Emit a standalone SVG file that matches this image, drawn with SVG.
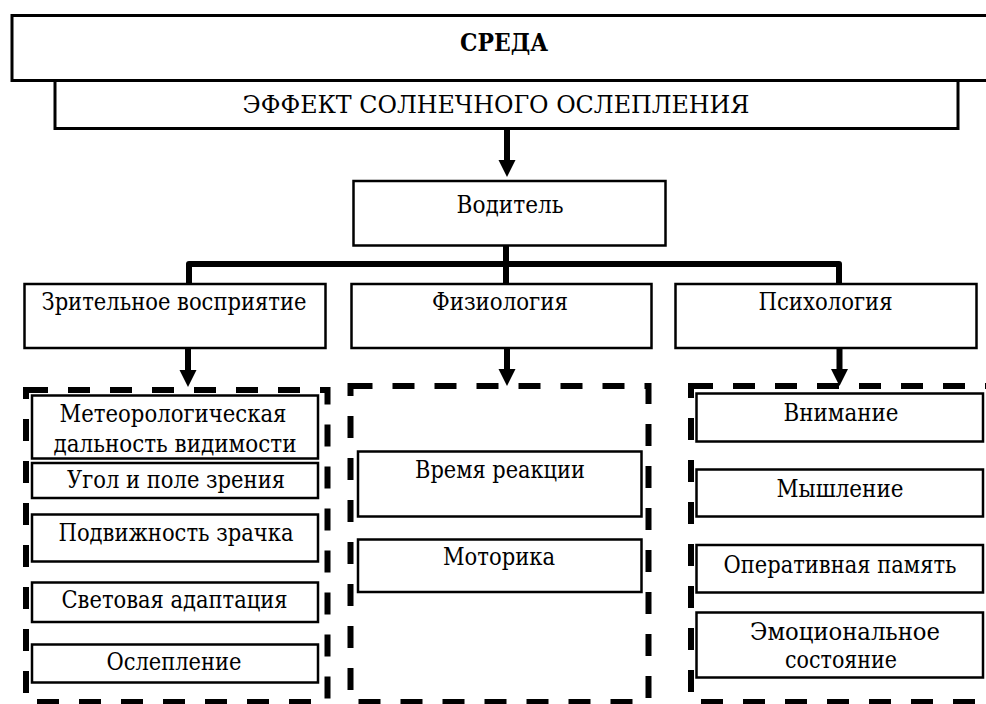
<svg xmlns="http://www.w3.org/2000/svg" width="986" height="704" viewBox="0 0 986 704">
<style>
  text { font-family: 'DejaVu Serif Condensed', 'DejaVu Serif', 'Liberation Serif', serif; font-stretch: condensed; font-size: 24px; fill: #000; text-anchor: middle; }
  .bold { font-weight: bold; }
  .box { fill: #fff; stroke: #000; stroke-width: 2.5; }
  .big { fill: #fff; stroke: #000; stroke-width: 3; }
  .dash { fill: none; stroke: #000; stroke-width: 6; stroke-dasharray: 22 20; }
  .conn { fill: none; stroke: #000; stroke-width: 6; stroke-linejoin: round; }
</style>
<defs>
  <marker id="ah" markerUnits="userSpaceOnUse" markerWidth="18" markerHeight="18" refX="0" refY="8.5" orient="auto">
    <path d="M0,0 L17,8.5 L0,17 z" fill="#000"/>
  </marker>
</defs>
<rect width="986" height="704" fill="#fff"/>

<g id="sreda">
  <rect class="big" x="12" y="15.5" width="990" height="65"/>
  <text class="bold" x="504" y="51" textLength="88" lengthAdjust="spacingAndGlyphs">СРЕДА</text>
</g>
<g id="effekt">
  <rect class="big" x="55" y="80.5" width="903" height="48"/>
  <text x="496" y="113" textLength="507" lengthAdjust="spacingAndGlyphs">ЭФФЕКТ СОЛНЕЧНОГО ОСЛЕПЛЕНИЯ</text>
</g>
<g id="voditel">
  <rect class="box" x="353.5" y="181" width="312" height="64.5"/>
  <text x="510" y="213" textLength="107" lengthAdjust="spacingAndGlyphs">Водитель</text>
</g>
<g id="zritelnoe">
  <rect class="box" x="24.5" y="284" width="301" height="64"/>
  <text x="174" y="310" textLength="265" lengthAdjust="spacingAndGlyphs">Зрительное восприятие</text>
</g>
<g id="fiziologiya">
  <rect class="box" x="351.5" y="284" width="300" height="64"/>
  <text x="500" y="310" textLength="136" lengthAdjust="spacingAndGlyphs">Физиология</text>
</g>
<g id="psihologiya">
  <rect class="box" x="675.5" y="284" width="301" height="64"/>
  <text x="825.5" y="310" textLength="134" lengthAdjust="spacingAndGlyphs">Психология</text>
</g>

<g id="group-left">
  <rect class="dash" x="26" y="390" width="301.5" height="312"/>
</g>
<g id="group-mid">
  <rect class="dash" x="350.5" y="386" width="298" height="316"/>
</g>
<g id="group-right">
  <rect class="dash" x="691" y="386" width="320" height="316"/>
</g>

<g id="meteo">
  <rect class="box" x="32" y="395.5" width="286" height="63"/>
  <text x="173" y="421.5" textLength="227" lengthAdjust="spacingAndGlyphs">Метеорологическая</text>
  <text x="175" y="451.5" textLength="243" lengthAdjust="spacingAndGlyphs">дальность видимости</text>
</g>
<g id="ugol">
  <rect class="box" x="32" y="463" width="286" height="35"/>
  <text x="176" y="488" textLength="218" lengthAdjust="spacingAndGlyphs">Угол и поле зрения</text>
</g>
<g id="podvizhnost">
  <rect class="box" x="32" y="514.5" width="286" height="47"/>
  <text x="176" y="540.5" textLength="235" lengthAdjust="spacingAndGlyphs">Подвижность зрачка</text>
</g>
<g id="svetovaya">
  <rect class="box" x="32" y="582.5" width="286" height="39.5"/>
  <text x="174.5" y="608" textLength="226" lengthAdjust="spacingAndGlyphs">Световая адаптация</text>
</g>
<g id="osleplenie">
  <rect class="box" x="32" y="644.5" width="286" height="38"/>
  <text x="174" y="670" textLength="135" lengthAdjust="spacingAndGlyphs">Ослепление</text>
</g>

<g id="vremya">
  <rect class="box" x="358" y="451.5" width="283.5" height="65"/>
  <text x="500" y="478" textLength="170" lengthAdjust="spacingAndGlyphs">Время реакции</text>
</g>
<g id="motorika">
  <rect class="box" x="358" y="539.5" width="283.5" height="52.5"/>
  <text x="499" y="565" textLength="112" lengthAdjust="spacingAndGlyphs">Моторика</text>
</g>

<g id="vnimanie">
  <rect class="box" x="696.5" y="393.5" width="286.5" height="48"/>
  <text x="841" y="420.5" textLength="115" lengthAdjust="spacingAndGlyphs">Внимание</text>
</g>
<g id="myshlenie">
  <rect class="box" x="696.5" y="469.5" width="286.5" height="47"/>
  <text x="840" y="496.5" textLength="127" lengthAdjust="spacingAndGlyphs">Мышление</text>
</g>
<g id="operativnaya">
  <rect class="box" x="696.5" y="545" width="286.5" height="47.5"/>
  <text x="840" y="573" textLength="233" lengthAdjust="spacingAndGlyphs">Оперативная память</text>
</g>
<g id="emotsionalnoe">
  <rect class="box" x="696.5" y="612.5" width="286.5" height="65"/>
  <text x="845" y="640" textLength="190" lengthAdjust="spacingAndGlyphs">Эмоциональное</text>
  <text x="841" y="668" textLength="112" lengthAdjust="spacingAndGlyphs">состояние</text>
</g>

<g id="connectors">
  <line class="conn" x1="507" y1="130" x2="507" y2="160" marker-end="url(#ah)"/>
  <path class="conn" d="M189,284 V264 H839 V284"/>
  <line class="conn" x1="506" y1="246" x2="506" y2="284"/>
  <line class="conn" x1="188" y1="349" x2="188" y2="370" marker-end="url(#ah)"/>
  <line class="conn" x1="507" y1="349" x2="507" y2="369" marker-end="url(#ah)"/>
  <line class="conn" x1="839.5" y1="349" x2="839.5" y2="369" marker-end="url(#ah)"/>
</g>
</svg>
